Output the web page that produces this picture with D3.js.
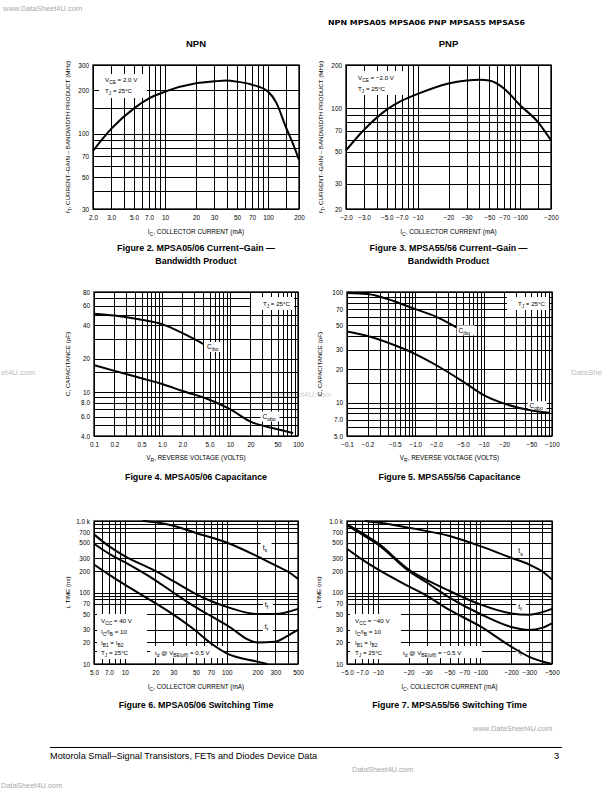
<!DOCTYPE html>
<html><head><meta charset="utf-8">
<script src="https://cdn.jsdelivr.net/npm/d3@7"></script>
<style>body{margin:0;background:#fff}svg{display:block}</style>
</head><body>
<script>
// ---------------- DATA ----------------
// Figure 2: NPN fT vs IC
const fig2Current = [2, 3, 5, 7, 10, 20, 30, 40, 50, 70, 100, 120, 150, 175, 200];
const fig2Ft      = [76, 108, 150, 176, 196, 224, 231, 234, 230, 219, 196, 165, 110, 85, 66];
// Figure 3: PNP fT vs IC (magnitudes, labels negative)
const fig3Current = [2, 3, 5, 7, 10, 20, 30, 40, 50, 70, 100, 150, 200];
const fig3Ft      = [51, 71, 98, 113, 126, 149, 156, 158, 156, 137, 105, 80, 60];
// Figure 4: MPSA05/06 capacitance
const fig4VrIbo = [0.1, 0.2, 0.5, 1, 2, 3, 4.1];
const fig4Cibo  = [51, 49, 45, 41, 34, 30, 27];
const fig4VrObo = [0.1, 0.2, 0.5, 1, 2, 5, 10, 20, 50, 85];
const fig4Cobo  = [17.5, 15.5, 13.3, 11.8, 10.2, 8.5, 7.0, 5.4, 4.6, 4.25];
// Figure 5: MPSA55/56 capacitance
const fig5VrIbo = [0.1, 0.2, 0.5, 1, 2, 3, 4];
const fig5Cibo  = [98, 96, 82, 70, 60, 53, 48];
const fig5VrObo = [0.1, 0.2, 0.5, 1, 2, 5, 10, 20, 50, 90];
const fig5Cobo  = [44, 40, 33, 27.5, 21.9, 15.5, 11.7, 9.8, 8.5, 8.1];
// Figure 6: MPSA05/06 switching times
const fig6TsI = [15, 20, 30, 50, 100, 200, 300, 400, 500];
const fig6Ts  = [1000, 960, 860, 680, 500, 320, 240, 195, 155];
const fig6TfI = [5, 7, 10, 20, 30, 50, 70, 100, 200, 300, 500];
const fig6Tf  = [650, 445, 322, 200, 144, 95, 76, 63, 50, 50, 59];
const fig6TrI = [5, 7, 10, 20, 30, 50, 70, 100, 200, 300, 400, 500];
const fig6Tr  = [480, 350, 265, 148, 100, 62, 47, 35, 20, 20.5, 25, 30];
const fig6TdI = [5, 7, 10, 20, 30, 50, 70, 100, 200, 250];
const fig6Td  = [246, 178, 129, 71, 49, 29, 19.5, 14.1, 10.8, 10];
// Figure 7: MPSA55/56 switching times (magnitudes)
const fig7TsI = [7.5, 10, 20, 50, 100, 200, 300, 400, 500];
const fig7Ts  = [1000, 950, 805, 616, 445, 305, 246, 198, 152];
const fig7TfI = [5, 7, 10, 20, 30, 50, 100, 200, 300, 500];
const fig7Tf  = [900, 680, 490, 210, 150, 105, 68, 51, 49, 59];
const fig7T2I = [5, 7, 10, 20, 30, 50, 100, 200, 300, 400, 500];
const fig7T2  = [870, 650, 470, 200, 138, 85, 50, 33, 30, 32, 37];
const fig7TrI = [5, 7, 10, 20, 30, 50, 100, 200, 300, 500];
const fig7Tr  = [410, 290, 210, 122, 90, 57, 33.5, 17.5, 12.6, 10];

// Tick values and labels
const ftCurrentTicks = [2, 3, 5, 7, 10, 20, 30, 50, 70, 100, 200];
const npnFtCurrentLabels = ["2.0", "3.0", "5.0", "7.0", "10", "20", "30", "50", "70", "100", "200"];
const pnpFtCurrentLabels = ["\u22122.0", "\u22123.0", "\u22125.0", "\u22127.0", "\u221210", "\u221220", "\u221230", "\u221250", "\u221270", "\u2212100", "\u2212200"];
const fig2YTicks = [30, 50, 70, 100, 200, 300];
const fig2YLabels = ["30", "50", "70", "100", "200", "300"];
const fig3YTicks = [20, 30, 50, 70, 100, 200];
const fig3YLabels = ["20", "30", "50", "70", "100", "200"];
const vrTicks = [0.1, 0.2, 0.5, 1, 2, 5, 10, 20, 50, 100];
const npnVrLabels = ["0.1", "0.2", "0.5", "1.0", "2.0", "5.0", "10", "20", "50", "100"];
const pnpVrLabels = ["\u22120.1", "\u22120.2", "\u22120.5", "\u22121.0", "\u22122.0", "\u22125.0", "\u221210", "\u221220", "\u221250", "\u2212100"];
const fig4YTicks = [4, 6, 8, 10, 20, 40, 60, 80];
const fig4YLabels = ["4.0", "6.0", "8.0", "10", "20", "40", "60", "80"];
const fig5YTicks = [5, 7, 10, 20, 30, 50, 70, 100];
const fig5YLabels = ["5.0", "7.0", "10", "20", "30", "50", "70", "100"];
const swCurrentTicks = [5, 7, 10, 20, 30, 50, 70, 100, 200, 300, 500];
const npnSwLabels = ["5.0", "7.0", "10", "20", "30", "50", "70", "100", "200", "300", "500"];
const pnpSwLabels = ["\u22125.0", "\u22127.0", "\u221210", "\u221220", "\u221230", "\u221250", "\u221270", "\u2212100", "\u2212200", "\u2212300", "\u2212500"];
const timeTicks = [10, 20, 30, 50, 70, 100, 200, 300, 500, 700, 1000];
const timeLabels = ["10", "20", "30", "50", "70", "100", "200", "300", "500", "700", "1.0 k"];

// Grid line values
const ftGridX = [2, 3, 4, 5, 6, 7, 8, 9, 10, 20, 30, 40, 50, 60, 70, 80, 90, 100, 150, 200];
const fig2GridY = [30, 40, 50, 60, 70, 80, 90, 100, 150, 200, 300];
const fig3GridY = [20, 30, 40, 50, 60, 70, 80, 90, 100, 200];
const vrGridX = [0.1, 0.2, 0.3, 0.4, 0.5, 0.6, 0.7, 0.8, 0.9, 1, 2, 3, 4, 5, 6, 7, 8, 9, 10, 20, 30, 40, 50, 60, 70, 80, 90, 100];
const fig4GridY = [4, 5, 6, 7, 8, 9, 10, 15, 20, 30, 40, 50, 60, 70, 80];
const fig5GridY = [5, 6, 7, 8, 9, 10, 15, 20, 30, 40, 50, 60, 70, 80, 90, 100];
const swGridX = [5, 6, 7, 8, 9, 10, 20, 30, 40, 50, 60, 70, 80, 90, 100, 200, 300, 400, 500];
const timeGridY = [10, 15, 20, 30, 50, 70, 80, 90, 100, 200, 300, 500, 700, 800, 900, 1000];

// ---------------- DRAWING ----------------
const FONT = "'Liberation Sans', Arial, Helvetica, sans-serif";
const svg = d3.select("body").append("svg").attr("width", 612).attr("height", 792)
  .attr("font-family", FONT);

// text with _{sub} markup
function rich(sel, str, size) {
  const re = /_\{([^}]*)\}/g;
  let last = 0, m, shifted = false;
  const sh = size * 0.3;
  const push = (t, sub) => {
    if (!t) return;
    const ts = sel.append("tspan").text(t);
    if (sub) { ts.attr("font-size", size * 0.78); if (!shifted) { ts.attr("dy", sh); shifted = true; } }
    else { if (shifted) { ts.attr("dy", -sh); shifted = false; } }
  };
  while ((m = re.exec(str)) !== null) { push(str.slice(last, m.index), false); push(m[1], true); last = re.lastIndex; }
  push(str.slice(last), false);
  return sel;
}
function txt(parent, x, y, str, size, opts = {}) {
  const t = parent.append("text").attr("x", x).attr("y", y).attr("font-size", size)
    .attr("text-anchor", opts.anchor || "start").attr("fill", opts.fill || "#000");
  if (opts.weight) t.attr("font-weight", opts.weight);
  if (opts.rotate) t.attr("transform", `rotate(-90,${x},${y})`);
  if (opts.family) t.attr("font-family", opts.family);
  rich(t, str, size);
  return t;
}

// watermarks (under everything)
const wm = svg.append("g").attr("font-family", FONT);
txt(wm, 3, 11, "www.DataSheet4U.com", 7.5, {fill: "#a8a8a8"});
txt(wm, 1, 375, "et4U.com", 8, {fill: "#bdbdbd"});
txt(wm, 571, 375, "DataShe", 8, {fill: "#bdbdbd"});
txt(wm, 266, 397, "DataSheet4U.com", 8, {fill: "#d0d0d0"});
txt(wm, 473, 731, "www.DataSheet4U.com", 7.5, {fill: "#a8a8a8"});
txt(wm, 352, 772, "DataSheet4U.com", 7.5, {fill: "#a8a8a8"});
txt(wm, 1, 788, "DataSheet4U.com", 7.5, {fill: "#a8a8a8"});

function drawPanel(p) {
  const x = d3.scaleLog().domain(p.xDomain).range([p.x0, p.x1]);
  const y = d3.scaleLog().domain(p.yDomain).range([p.y1, p.y0]);
  const g = svg.append("g");
  const w = p.x1 - p.x0, h = p.y1 - p.y0;
  // grid
  g.append("g").attr("transform", `translate(0,${p.y1})`)
    .call(d3.axisBottom(x).tickValues(p.gridX).tickSize(-h).tickFormat(""))
    .call(s => s.select(".domain").remove())
    .selectAll("line").attr("stroke", "#000").attr("stroke-width", 1).attr("shape-rendering", "crispEdges");
  g.append("g").attr("transform", `translate(${p.x0},0)`)
    .call(d3.axisLeft(y).tickValues(p.gridY).tickSize(-w).tickFormat(""))
    .call(s => s.select(".domain").remove())
    .selectAll("line").attr("stroke", "#000").attr("stroke-width", 1).attr("shape-rendering", "crispEdges");
  // white boxes for annotations
  (p.boxes || []).forEach(b => g.append("rect").attr("x", b[0]).attr("y", b[1]).attr("width", b[2]).attr("height", b[3]).attr("fill", "#fff"));
  // curve-label boxes (data anchored)
  (p.labels || []).forEach(l => {
    g.append("rect").attr("x", x(l.x) - 2).attr("y", y(l.y) - 5).attr("width", l.w).attr("height", 10).attr("fill", "#fff");
  });
  // curves
  const line = d3.line().x(d => x(d[0])).y(d => y(d[1])).curve(d3.curveMonotoneX);
  p.curves.forEach(c => g.append("path").datum(d3.zip(c[0], c[1])).attr("d", line)
    .attr("fill", "none").attr("stroke", "#000").attr("stroke-width", 2).attr("stroke-linejoin", "round"));
  // frame
  g.append("rect").attr("x", p.x0).attr("y", p.y0).attr("width", w).attr("height", h)
    .attr("fill", "none").attr("stroke", "#000").attr("stroke-width", 1.3);
  // tick labels
  const ax = g.append("g").attr("transform", `translate(0,${p.y1})`)
    .call(d3.axisBottom(x).tickValues(p.xTicks).tickFormat((d, i) => p.xLabels[i]).tickSize(0).tickPadding(6.6));
  ax.select(".domain").remove();
  ax.attr("font-family", FONT).attr("font-size", 6.4);
  const ay = g.append("g").attr("transform", `translate(${p.x0},0)`)
    .call(d3.axisLeft(y).tickValues(p.yTicks).tickFormat((d, i) => p.yLabels[i]).tickSize(0).tickPadding(4));
  ay.select(".domain").remove();
  ay.attr("font-family", FONT).attr("font-size", 6.4);
  // annotation texts
  (p.notes || []).forEach(n => txt(g, n[0], n[1], n[2], n[3] || 6.2, {anchor: n[4]}));
  (p.labels || []).forEach(l => txt(g, x(l.x), y(l.y) + 2.3, l.t, l.size || 6.5));
  // axis titles
  const cx = (p.x0 + p.x1) / 2;
  txt(g, cx, p.y1 + p.xTitleDy, p.xTitle, 6.4, {anchor: "middle"});
  txt(g, p.x0 - p.yTitleDx, (p.y0 + p.y1) / 2, p.yTitle, 6.2, {anchor: "middle", rotate: true});
  p.caption.forEach((c, i) => txt(g, cx, p.y1 + p.capDy + i * 13, c, 8.9, {anchor: "middle", weight: "bold"}));
  if (p.title) txt(g, cx, p.y0 - 18, p.title, 9.5, {anchor: "middle", weight: "bold"});
}

// header
txt(svg, 328, 25, "NPN MPSA05 MPSA06 PNP MPSA55 MPSA56", 7, {weight: "900", family: "'DejaVu Sans', sans-serif"})
  .attr("textLength", 197).attr("lengthAdjust", "spacingAndGlyphs");

// Figure 2
drawPanel({
  x0: 93, x1: 299, y0: 65, y1: 209, xDomain: [2, 200], yDomain: [30, 300],
  gridX: ftGridX, gridY: fig2GridY, xTicks: ftCurrentTicks, xLabels: npnFtCurrentLabels,
  yTicks: fig2YTicks, yLabels: fig2YLabels,
  curves: [[fig2Current, fig2Ft]],
  boxes: [[99, 74, 48, 24]],
  notes: [[105, 82, "V_{CE} = 2.0 V"], [105, 93, "T_{J} = 25°C"]],
  title: "NPN",
  xTitle: "I_{C}, COLLECTOR CURRENT (mA)", xTitleDy: 25,
  yTitle: "f_{T}, CURRENT\u2013GAIN \u2013 BANDWIDTH PRODUCT (MHz)", yTitleDx: 23,
  caption: ["Figure 2. MPSA05/06 Current\u2013Gain \u2014", "Bandwidth Product"], capDy: 42
});
// Figure 3
drawPanel({
  x0: 346, x1: 551, y0: 65, y1: 209, xDomain: [2, 200], yDomain: [20, 200],
  gridX: ftGridX, gridY: fig3GridY, xTicks: ftCurrentTicks, xLabels: pnpFtCurrentLabels,
  yTicks: fig3YTicks, yLabels: fig3YLabels,
  curves: [[fig3Current, fig3Ft]],
  boxes: [[353, 71, 50, 24]],
  notes: [[358, 80, "V_{CE} = \u22122.0 V"], [358, 91, "T_{J} = 25°C"]],
  title: "PNP",
  xTitle: "I_{C}, COLLECTOR CURRENT (mA)", xTitleDy: 25,
  yTitle: "f_{T}, CURRENT\u2013GAIN \u2013 BANDWIDTH PRODUCT (MHz)", yTitleDx: 23,
  caption: ["Figure 3. MPSA55/56 Current\u2013Gain \u2014", "Bandwidth Product"], capDy: 42
});
// Figure 4
drawPanel({
  x0: 94, x1: 298, y0: 292, y1: 436, xDomain: [0.1, 100], yDomain: [4, 80],
  gridX: vrGridX, gridY: fig4GridY, xTicks: vrTicks, xLabels: npnVrLabels,
  yTicks: fig4YTicks, yLabels: fig4YLabels,
  curves: [[fig4VrIbo, fig4Cibo], [fig4VrObo, fig4Cobo]],
  boxes: [[251, 297, 43, 13]],
  notes: [[290, 306, "T_{J} = 25°C", 6.2, "end"]],
  labels: [{x: 4.6, y: 25.5, t: "C_{ibo}", w: 18}, {x: 30, y: 6.0, t: "C_{obo}", w: 19}],
  xTitle: "V_{R}, REVERSE VOLTAGE (VOLTS)", xTitleDy: 24,
  yTitle: "C, CAPACITANCE (pF)", yTitleDx: 24,
  caption: ["Figure 4. MPSA05/06 Capacitance"], capDy: 44
});
// Figure 5
drawPanel({
  x0: 347, x1: 552, y0: 292, y1: 436, xDomain: [0.1, 100], yDomain: [5, 100],
  gridX: vrGridX, gridY: fig5GridY, xTicks: vrTicks, xLabels: pnpVrLabels,
  yTicks: fig5YTicks, yLabels: fig5YLabels,
  curves: [[fig5VrIbo, fig5Cibo], [fig5VrObo, fig5Cobo]],
  boxes: [[507, 297, 42, 13]],
  notes: [[545, 306, "T_{J} = 25°C", 6.2, "end"]],
  labels: [{x: 4.3, y: 45, t: "C_{ibo}", w: 18}, {x: 47, y: 9.3, t: "C_{obo}", w: 19}],
  xTitle: "V_{R}, REVERSE VOLTAGE (VOLTS)", xTitleDy: 24,
  yTitle: "C, CAPACITANCE (pF)", yTitleDx: 25,
  caption: ["Figure 5. MPSA55/56 Capacitance"], capDy: 44
});
// Figure 6
drawPanel({
  x0: 94, x1: 298, y0: 521, y1: 664, xDomain: [5, 500], yDomain: [10, 1000],
  gridX: swGridX, gridY: timeGridY, xTicks: swCurrentTicks, xLabels: npnSwLabels,
  yTicks: timeTicks, yLabels: timeLabels,
  curves: [[fig6TsI, fig6Ts], [fig6TfI, fig6Tf], [fig6TrI, fig6Tr], [fig6TdI, fig6Td]],
  boxes: [[97, 614, 50, 45], [150, 646, 73, 12]],
  notes: [[101, 623, "V_{CC} = 40 V"], [101, 634, "I_{C}/I_{B} = 10"], [101, 645, "I_{B1} = I_{B2}"], [101, 655, "T_{J} = 25°C"],
          [155, 655, "t_{d} @ V_{BE(off)} = 0.5 V"]],
  labels: [{x: 225, y: 430, t: "t_{s}", w: 11, size: 7}, {x: 236, y: 67, t: "t_{f}", w: 10, size: 7}, {x: 236, y: 33, t: "t_{r}", w: 10, size: 7}],
  xTitle: "I_{C}, COLLECTOR CURRENT (mA)", xTitleDy: 25,
  yTitle: "t, TIME (ns)", yTitleDx: 24,
  caption: ["Figure 6. MPSA05/06 Switching Time"], capDy: 44
});
// Figure 7
drawPanel({
  x0: 347, x1: 552, y0: 521, y1: 664, xDomain: [5, 500], yDomain: [10, 1000],
  gridX: swGridX, gridY: timeGridY, xTicks: swCurrentTicks, xLabels: pnpSwLabels,
  yTicks: timeTicks, yLabels: timeLabels,
  curves: [[fig7TsI, fig7Ts], [fig7TfI, fig7Tf], [fig7T2I, fig7T2], [fig7TrI, fig7Tr]],
  boxes: [[350, 614, 51, 45], [396, 646, 86, 12]],
  notes: [[355, 623, "V_{CC} = \u221240 V"], [355, 634, "I_{C}/I_{B} = 10"], [355, 645, "I_{B1} = I_{B2}"], [355, 655, "T_{J} = 25°C"],
          [403, 655, "t_{d} @ V_{BE(off)} = \u22120.5 V"]],
  labels: [{x: 234, y: 379, t: "t_{s}", w: 11, size: 7}, {x: 234, y: 64, t: "t_{f}", w: 10, size: 7}, {x: 234, y: 15, t: "t_{r}", w: 10, size: 7}],
  xTitle: "I_{C}, COLLECTOR CURRENT (mA)", xTitleDy: 25,
  yTitle: "t, TIME (ns)", yTitleDx: 26,
  caption: ["Figure 7. MPSA55/56 Switching Time"], capDy: 44
});

// footer
svg.append("line").attr("x1", 50).attr("x2", 562).attr("y1", 747.5).attr("y2", 747.5).attr("stroke", "#000").attr("stroke-width", 1.2);
txt(svg, 50, 759, "Motorola Small\u2013Signal Transistors, FETs and Diodes Device Data", 9.2);
txt(svg, 559, 759, "3", 9.2, {anchor: "end"});
</script>
</body></html>
